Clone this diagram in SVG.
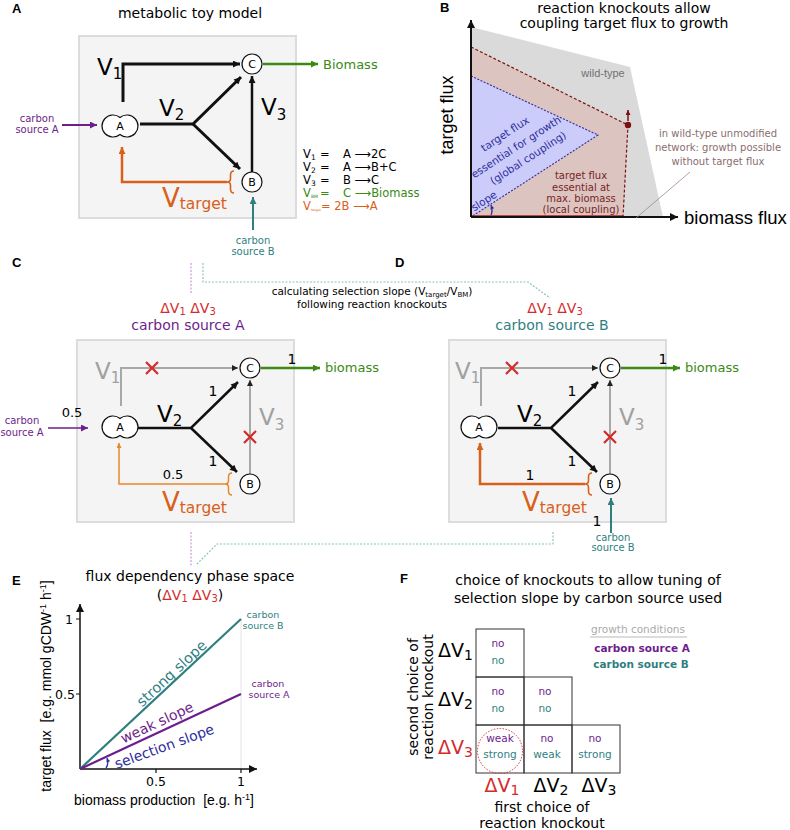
<svg xmlns="http://www.w3.org/2000/svg" width="790" height="830" viewBox="0 0 790 830">
<style>
text{font-family:"DejaVu Sans",sans-serif}
.lab{font-family:"Liberation Sans",Arial,sans-serif;font-weight:bold;font-size:13px}
.ls{font-family:"Liberation Sans",Arial,sans-serif}
.box{fill:#f4f4f4;stroke:#dcdcdc;stroke-width:2}
.node{fill:#fff;stroke:#111;stroke-width:1.2}
.nt{font-size:11px;text-anchor:middle}
.k{fill:none;stroke:#111;stroke-width:3}
.k2{fill:none;stroke:#111;stroke-width:2.5}
.gr{fill:none;stroke:#a8a8a8;stroke-width:2}
.x{stroke:#d42a2a;stroke-width:2.2}
.pur{fill:#6e1e8c}
.teal{fill:#2f7f7f}
.grn{fill:#3a8a14}
.org{fill:#d9601a}
.red{fill:#d42a2a}
.gtx{fill:#a0a0a0}
.navy{fill:#2e2e9e}
.brn{fill:#7a2424}
.ann{fill:#8a6e6e}
.sm{font-size:10px;text-anchor:middle}
.mid{text-anchor:middle}
.dashT{fill:none;stroke:#8cc4c4;stroke-width:1.2;stroke-dasharray:2 1.5}
.dashP{fill:none;stroke:#c89ad8;stroke-width:1.2;stroke-dasharray:2 1.5}
</style>
<defs>
<marker id="mk" viewBox="0 0 10 10" refX="10" refY="5" markerWidth="10" markerHeight="7" markerUnits="userSpaceOnUse" orient="auto"><path d="M0,0L10,5L0,10z" fill="#111"/></marker>
<marker id="mkg" viewBox="0 0 10 10" refX="10" refY="5" markerWidth="8" markerHeight="6" markerUnits="userSpaceOnUse" orient="auto"><path d="M0,0L10,5L0,10z" fill="#222"/></marker>
<marker id="mgreen" viewBox="0 0 10 10" refX="10" refY="5" markerWidth="10" markerHeight="7" markerUnits="userSpaceOnUse" orient="auto"><path d="M0,0L10,5L0,10z" fill="#3a8a14"/></marker>
<marker id="mpur" viewBox="0 0 10 10" refX="10" refY="5" markerWidth="9" markerHeight="7" markerUnits="userSpaceOnUse" orient="auto"><path d="M0,0L10,5L0,10z" fill="#6e1e8c"/></marker>
<marker id="mteal" viewBox="0 0 10 10" refX="10" refY="5" markerWidth="9" markerHeight="7" markerUnits="userSpaceOnUse" orient="auto"><path d="M0,0L10,5L0,10z" fill="#2f7f7f"/></marker>
<marker id="mor" viewBox="0 0 10 10" refX="10" refY="5" markerWidth="10" markerHeight="7" markerUnits="userSpaceOnUse" orient="auto"><path d="M0,0L10,5L0,10z" fill="#d9601a"/></marker>
<marker id="mor2" viewBox="0 0 10 10" refX="10" refY="5" markerWidth="7" markerHeight="5" markerUnits="userSpaceOnUse" orient="auto"><path d="M0,0L10,5L0,10z" fill="#e8862e"/></marker>
<marker id="mdred" viewBox="0 0 10 10" refX="10" refY="5" markerWidth="6" markerHeight="5" markerUnits="userSpaceOnUse" orient="auto"><path d="M0,0L10,5L0,10z" fill="#7a1010"/></marker>
<marker id="mnavy" viewBox="0 0 10 10" refX="10" refY="5" markerWidth="5" markerHeight="4" markerUnits="userSpaceOnUse" orient="auto"><path d="M0,0L10,5L0,10z" fill="#2e2e9e"/></marker>
<marker id="max" viewBox="0 0 10 10" refX="10" refY="5" markerWidth="10" markerHeight="8" markerUnits="userSpaceOnUse" orient="auto"><path d="M0,0L10,5L0,10z" fill="#111"/></marker>
<path id="peanut" d="M0,-8.5A11,11 0 1 1 0,8.5A11,11 0 1 1 0,-8.5Z"/>
</defs>
<rect width="790" height="830" fill="#fff"/>

<!-- connectors between panels -->
<g id="connectors">
<path class="dashT" d="M203,263V282H528L550,298"/>
<path class="dashP" d="M191,263V293"/>
<path class="dashP" d="M191,532V567"/>
<path class="dashT" d="M553,532V544H217L196,565"/>
<text x="372" y="295" font-size="10.5" class="mid">calculating selection slope (V<tspan font-size="7" dy="2">target</tspan><tspan dy="-2">/V</tspan><tspan font-size="7" dy="2">BM</tspan><tspan dy="-2">)</tspan></text>
<text x="372" y="308" font-size="10.5" class="mid">following reaction knockouts</text>
</g>

<!-- Panel A -->
<g id="panelA">
<text class="lab" x="12" y="13">A</text>
<text x="190" y="18" font-size="14" class="mid">metabolic toy model</text>
<rect class="box" x="79" y="36" width="217" height="182"/>
<g id="A_edges">
<path class="k" d="M123,102V64H240" marker-end="url(#mk)"/>
<path class="k" d="M140,124H193L241,77" marker-end="url(#mk)"/>
<path class="k" d="M193,124L240,169" marker-end="url(#mk)"/>
<path class="k2" d="M252,172V76" marker-end="url(#mk)"/>
<path fill="none" stroke="#3a8a14" stroke-width="2.5" d="M263,64H318" marker-end="url(#mgreen)"/>
<path fill="none" stroke="#6e1e8c" stroke-width="2" d="M62,125H97" marker-end="url(#mpur)"/>
<path fill="none" stroke="#2f7f7f" stroke-width="2" d="M253,230V197" marker-end="url(#mteal)"/>
<path fill="none" stroke="#d9601a" stroke-width="2.5" d="M227,182H122V147" marker-end="url(#mor)"/>
<path fill="none" stroke="#d9601a" stroke-width="1.6" d="M234,171q-3.5,0 -3.5,4v3.5q0,3.5 -3.5,3.5q3.5,0 3.5,3.5v3.5q0,4 3.5,4"/>
</g>
<g id="A_nodeC"><circle class="node" cx="252" cy="64" r="10"/><text class="nt" x="252" y="68">C</text></g>
<g id="A_nodeA"><use href="#peanut" x="120" y="126" class="node"/><text class="nt" x="120" y="130">A</text></g>
<g id="A_nodeB"><circle class="node" cx="252" cy="182" r="10"/><text class="nt" x="252" y="186">B</text></g>
<text x="97" y="75" font-size="23">V<tspan font-size="15" dy="4">1</tspan></text>
<text x="159" y="116" font-size="23">V<tspan font-size="15" dy="4">2</tspan></text>
<text x="261" y="115" font-size="23">V<tspan font-size="15" dy="5">3</tspan></text>
<text x="162" y="207" font-size="26" class="org">V<tspan font-size="15.5" dy="2">target</tspan></text>
<text x="323" y="69" font-size="13" class="grn">Biomass</text>
<text x="37" y="122" class="sm pur">carbon</text>
<text x="37" y="133" class="sm pur">source A</text>
<text x="253" y="244" class="sm teal">carbon</text>
<text x="253" y="255" class="sm teal">source B</text>
<g font-size="11.5">
<text y="158"><tspan x="303">V</tspan><tspan font-size="7.5" dy="2">1</tspan><tspan x="320" dy="-2">=</tspan><tspan x="343">A ⟶2C</tspan></text>
<text y="171"><tspan x="303">V</tspan><tspan font-size="7.5" dy="2">2</tspan><tspan x="320" dy="-2">=</tspan><tspan x="343">A ⟶B+C</tspan></text>
<text y="184"><tspan x="303">V</tspan><tspan font-size="7.5" dy="2">3</tspan><tspan x="320" dy="-2">=</tspan><tspan x="343">B ⟶C</tspan></text>
<text y="197" class="grn"><tspan x="303">V</tspan><tspan font-size="4.5" dy="1">BM</tspan><tspan x="320" dy="-1">=</tspan><tspan x="343">C ⟶Biomass</tspan></text>
<text y="210" class="org"><tspan x="303">V</tspan><tspan font-size="3.3" dy="1">target</tspan><tspan x="321" dy="-1">= 2B ⟶A</tspan></text>
</g>
</g>

<!-- Panel B -->
<g id="panelB">
<text class="lab" x="440" y="12">B</text>
<text x="624" y="13" font-size="14" class="mid">reaction knockouts allow</text>
<text x="624" y="28" font-size="14" class="mid">coupling target flux to growth</text>
<polygon points="471,27 630,67 663,217 471,217" fill="#dadada"/>
<polygon points="471,47 628,125 623,217 471,217" fill="#dcc4c0"/>
<polygon points="471,76 598,135 471,217" fill="#ccccfa"/>
<path d="M471,47L628,125L623,217" fill="none" stroke="#7a1010" stroke-width="1.2" stroke-dasharray="3 2"/>
<path d="M471,76L598,135L471,217" fill="none" stroke="#2e2e9e" stroke-width="1.1" stroke-dasharray="2 1.5"/>
<path d="M628,121V110" stroke="#7a1010" stroke-width="1.5" marker-end="url(#mdred)"/>
<circle cx="628" cy="125" r="3.2" fill="#7a1010"/>
<path d="M471,216.5H623" stroke="#b02020" stroke-width="2.5"/>
<path d="M471,217V20" stroke="#111" stroke-width="2" marker-end="url(#max)"/>
<path d="M471,217H678" stroke="#111" stroke-width="1.8" marker-end="url(#max)"/>
<path d="M690,172L636,218" stroke="#a08888" stroke-width="0.8"/>
<path d="M491,215Q493,211 491,205" fill="none" stroke="#2e2e9e" stroke-width="1.3" marker-end="url(#mnavy)"/>
<text class="ls" x="684" y="224" font-size="18.5">biomass flux</text>
<text class="ls" font-size="18" transform="translate(453,115) rotate(-90)" text-anchor="middle">target flux</text>
<text class="ls" x="603" y="77" font-size="11" fill="#707070" text-anchor="middle">wild-type</text>
<g class="ls" font-size="10" text-anchor="middle">
<text x="718" y="137" class="ann">in wild-type unmodified</text>
<text x="718" y="151" class="ann">network: growth possible</text>
<text x="718" y="165" class="ann">without target flux</text>
</g>
<g font-size="10.5" text-anchor="middle">
<text transform="translate(507,137) rotate(-33)" class="navy">target flux</text>
<text transform="translate(518,150) rotate(-33)" class="navy">essential for growth</text>
<text transform="translate(530,161) rotate(-33)" class="navy">(global coupling)</text>
<text transform="translate(486,204) rotate(-33)" class="navy">slope</text>
</g>
<g font-size="10" text-anchor="middle">
<text x="581" y="179" class="brn">target flux</text>
<text x="581" y="190.5" class="brn">essential at</text>
<text x="581" y="202" class="brn">max. biomass</text>
<text x="581" y="213" class="brn">(local coupling)</text>
</g>
</g>

<!-- Panel C -->
<g id="panelC">
<text class="lab" x="12" y="267">C</text>
<text x="188" y="313" font-size="14" class="mid red">ΔV<tspan font-size="10" dy="2">1</tspan><tspan dy="-2"> ΔV</tspan><tspan font-size="10" dy="2">3</tspan></text>
<text x="188" y="330" font-size="14" class="mid pur">carbon source A</text>
<rect class="box" x="77" y="340" width="217" height="182"/>
<g transform="translate(-2,304)">
<g id="C_edges">
<path class="gr" d="M123,102V64H240" marker-end="url(#mkg)"/>
<path class="gr" d="M252,172V76" marker-end="url(#mkg)"/>
<path class="k2" d="M140,124H193L240,78" marker-end="url(#mk)"/>
<path class="k2" d="M193,124L239,168" marker-end="url(#mk)"/>
<path fill="none" stroke="#3a8a14" stroke-width="2.5" d="M263,64H322" marker-end="url(#mgreen)"/>
<path fill="none" stroke="#6e1e8c" stroke-width="1.5" d="M50,124H90" marker-end="url(#mpur)"/>
<path fill="none" stroke="#e8862e" stroke-width="1.5" d="M227,180H121V139" marker-end="url(#mor2)"/>
<path fill="none" stroke="#e8862e" stroke-width="1.5" d="M234,169q-3.5,0 -3.5,4v3.5q0,3.5 -3.5,3.5q3.5,0 3.5,3.5v3.5q0,4 3.5,4"/>
<path class="x" d="M148,58L160,70M160,58L148,70"/>
<path class="x" d="M246,127L258,139M258,127L246,139"/>
</g>
<g id="C_nodeC"><circle class="node" cx="252" cy="64" r="10"/><text class="nt" x="252" y="68">C</text></g>
<g id="C_nodeA"><use href="#peanut" x="122" y="123" class="node"/><text class="nt" x="122" y="127">A</text></g>
<g id="C_nodeB"><circle class="node" cx="252" cy="180" r="10"/><text class="nt" x="252" y="184">B</text></g>
<text x="97" y="75" font-size="23" class="gtx">V<tspan font-size="15" dy="4">1</tspan></text>
<text x="159" y="118" font-size="23">V<tspan font-size="15" dy="4">2</tspan></text>
<text x="261" y="121" font-size="23" class="gtx">V<tspan font-size="15" dy="5">3</tspan></text>
<text x="164" y="207" font-size="26" class="org">V<tspan font-size="15.5" dy="2">target</tspan></text>
<text x="215" y="92" font-size="14" class="mid">1</text>
<text x="215" y="162" font-size="14" class="mid">1</text>
<text x="294" y="60" font-size="14" class="mid">1</text>
<text x="327" y="68" font-size="13" class="grn">biomass</text>
<text x="74" y="113" font-size="13" class="mid">0.5</text>
<text x="175" y="175" font-size="13" class="mid">0.5</text>
<text x="24" y="120" class="sm pur">carbon</text>
<text x="24" y="132" class="sm pur">source A</text>
</g>
</g>

<!-- Panel D -->
<g id="panelD">
<text class="lab" x="395" y="267">D</text>
<text x="555" y="313" font-size="14" class="mid red">ΔV<tspan font-size="10" dy="2">1</tspan><tspan dy="-2"> ΔV</tspan><tspan font-size="10" dy="2">3</tspan></text>
<text x="552" y="330" font-size="14" class="mid teal">carbon source B</text>
<rect class="box" x="449" y="340" width="217" height="182"/>
<g transform="translate(358,304)">
<g id="D_edges">
<path class="gr" d="M123,102V64H240" marker-end="url(#mkg)"/>
<path class="gr" d="M252,172V76" marker-end="url(#mkg)"/>
<path class="k2" d="M140,124H193L240,78" marker-end="url(#mk)"/>
<path class="k2" d="M193,124L239,168" marker-end="url(#mk)"/>
<path fill="none" stroke="#3a8a14" stroke-width="2.5" d="M263,64H322" marker-end="url(#mgreen)"/>
<path fill="none" stroke="#2f7f7f" stroke-width="2" d="M253,229V194" marker-end="url(#mteal)"/>
<path fill="none" stroke="#d9601a" stroke-width="2.5" d="M227,180H122V139" marker-end="url(#mor)"/>
<path fill="none" stroke="#d9601a" stroke-width="1.6" d="M234,169q-3.5,0 -3.5,4v3.5q0,3.5 -3.5,3.5q3.5,0 3.5,3.5v3.5q0,4 3.5,4"/>
<path class="x" d="M148,58L160,70M160,58L148,70"/>
<path class="x" d="M246,127L258,139M258,127L246,139"/>
</g>
<g id="D_nodeC"><circle class="node" cx="252" cy="64" r="10"/><text class="nt" x="252" y="68">C</text></g>
<g id="D_nodeA"><use href="#peanut" x="121" y="123" class="node"/><text class="nt" x="121" y="127">A</text></g>
<g id="D_nodeB"><circle class="node" cx="252" cy="180" r="10"/><text class="nt" x="252" y="184">B</text></g>
<text x="97" y="75" font-size="23" class="gtx">V<tspan font-size="15" dy="4">1</tspan></text>
<text x="159" y="118" font-size="23">V<tspan font-size="15" dy="4">2</tspan></text>
<text x="261" y="121" font-size="23" class="gtx">V<tspan font-size="15" dy="5">3</tspan></text>
<text x="164" y="207" font-size="26" class="org">V<tspan font-size="15.5" dy="2">target</tspan></text>
<text x="214" y="92" font-size="14" class="mid">1</text>
<text x="214" y="162" font-size="14" class="mid">1</text>
<text x="305" y="60" font-size="14" class="mid">1</text>
<text x="327" y="68" font-size="13" class="grn">biomass</text>
<text x="172" y="176" font-size="14" class="mid">1</text>
<text x="239" y="222" font-size="14" class="mid">1</text>
<text x="255" y="237" class="sm teal" font-size="9.5">carbon</text>
<text x="255" y="247" class="sm teal" font-size="9.5">source B</text>
</g>
</g>

<!-- Panel E -->
<g id="panelE">
<text class="lab" x="12" y="585">E</text>
<text x="190" y="581" font-size="14" class="mid">flux dependency phase space</text>
<text x="190" y="600" font-size="14" class="mid">(<tspan class="red">ΔV</tspan><tspan class="red" font-size="10" dy="2">1</tspan><tspan class="red" dy="-2"> ΔV</tspan><tspan class="red" font-size="10" dy="2">3</tspan><tspan dy="-2">)</tspan></text>
<path d="M241,619V769" stroke="#e4e4e4" stroke-width="1"/>
<path d="M80,769V604" stroke="#111" stroke-width="1.5" marker-end="url(#max)"/>
<path d="M80,769H257" stroke="#111" stroke-width="1.5" marker-end="url(#max)"/>
<path d="M76,619H80M76,694H80M156,769V773M241,769V773" stroke="#111" stroke-width="1.2"/>
<text x="73" y="624" font-size="12.5" text-anchor="end">1</text>
<text x="75" y="699" font-size="12.5" text-anchor="end">0.5</text>
<text x="156" y="786" font-size="12.5" class="mid">0.5</text>
<text x="241" y="786" font-size="12.5" class="mid">1</text>
<path d="M80,769L241,619" stroke="#2f7f7f" stroke-width="2.2"/>
<path d="M80,769L241,694" stroke="#6e1e8c" stroke-width="2.2"/>
<text x="263" y="618" font-size="9.5" class="mid teal">carbon</text>
<text x="263" y="629" font-size="9.5" class="mid teal">source B</text>
<text x="268" y="687" font-size="9.5" class="mid pur">carbon</text>
<text x="269" y="698" font-size="9.5" class="mid pur">source A</text>
<text font-size="14.5" class="mid teal" transform="translate(175,677) rotate(-43)">strong slope</text>
<text font-size="14" class="mid pur" transform="translate(159,727) rotate(-25)">weak slope</text>
<text font-size="14" class="mid navy" transform="translate(166,751) rotate(-20)">selection slope</text>
<path d="M106,768Q109,764 107,758" fill="none" stroke="#2e2e9e" stroke-width="1.3" marker-end="url(#mnavy)"/>
<text class="ls" font-size="14" transform="translate(51,686) rotate(-90)" text-anchor="middle">target flux &#160;[e.g. mmol gCDW<tspan font-size="9" dy="-5">-1</tspan><tspan dy="5"> h</tspan><tspan font-size="9" dy="-5">-1</tspan><tspan dy="5">]</tspan></text>
<text class="ls" x="164" y="805" font-size="14" text-anchor="middle">biomass production &#160;[e.g. h<tspan font-size="9" dy="-5">-1</tspan><tspan dy="5">]</tspan></text>
</g>

<!-- Panel F -->
<g id="panelF">
<text class="lab" x="400" y="583">F</text>
<text x="588" y="585" font-size="14" class="mid">choice of knockouts to allow tuning of</text>
<text x="588" y="603" font-size="14" class="mid">selection slope by carbon source used</text>
<g fill="none" stroke="#333" stroke-width="1">
<rect x="476" y="629" width="48" height="48"/>
<rect x="476" y="677" width="48" height="48"/>
<rect x="524" y="677" width="48" height="48"/>
<rect x="476" y="725" width="48" height="48"/>
<rect x="524" y="725" width="48" height="48"/>
<rect x="572" y="725" width="48" height="48"/>
</g>
<g font-size="10.5" text-anchor="middle">
<text x="498" y="647" class="pur">no</text><text x="498" y="664" class="teal">no</text>
<text x="498" y="695" class="pur">no</text><text x="498" y="712" class="teal">no</text>
<text x="545" y="695" class="pur">no</text><text x="545" y="712" class="teal">no</text>
<text x="500" y="742" class="pur">weak</text><text x="500" y="758" class="teal">strong</text>
<text x="547" y="742" class="pur">no</text><text x="547" y="758" class="teal">weak</text>
<text x="595" y="742" class="pur">no</text><text x="595" y="758" class="teal">strong</text>
</g>
<circle cx="500" cy="751" r="22.5" fill="none" stroke="#d43030" stroke-width="1" stroke-dasharray="1.5 1.5"/>
<g font-size="19" text-anchor="end">
<text x="473" y="657">ΔV<tspan font-size="14" dy="3">1</tspan></text>
<text x="473" y="706">ΔV<tspan font-size="14" dy="3">2</tspan></text>
<text x="473" y="754" class="red">ΔV<tspan font-size="14" dy="3">3</tspan></text>
</g>
<g font-size="19" text-anchor="middle">
<text x="502" y="792" class="red">ΔV<tspan font-size="14" dy="3">1</tspan></text>
<text x="551" y="792">ΔV<tspan font-size="14" dy="3">2</tspan></text>
<text x="599" y="792">ΔV<tspan font-size="14" dy="3">3</tspan></text>
</g>
<text x="542" y="812" font-size="14" class="mid">first choice of</text>
<text x="542" y="828" font-size="14" class="mid">reaction knockout</text>
<text font-size="14" class="mid" transform="translate(418,697) rotate(-90)">second choice of</text>
<text font-size="14" class="mid" transform="translate(433,697) rotate(-90)">reaction knockout</text>
<text x="638" y="633" font-size="10.5" class="mid" fill="#aaa">growth conditions</text>
<path d="M590,637H687" stroke="#d0d0d0" stroke-width="1.5"/>
<text x="642" y="652" font-size="10.5" font-weight="bold" class="mid pur">carbon source A</text>
<text x="641" y="668" font-size="10.5" font-weight="bold" class="mid teal">carbon source B</text>
</g>
</svg>
